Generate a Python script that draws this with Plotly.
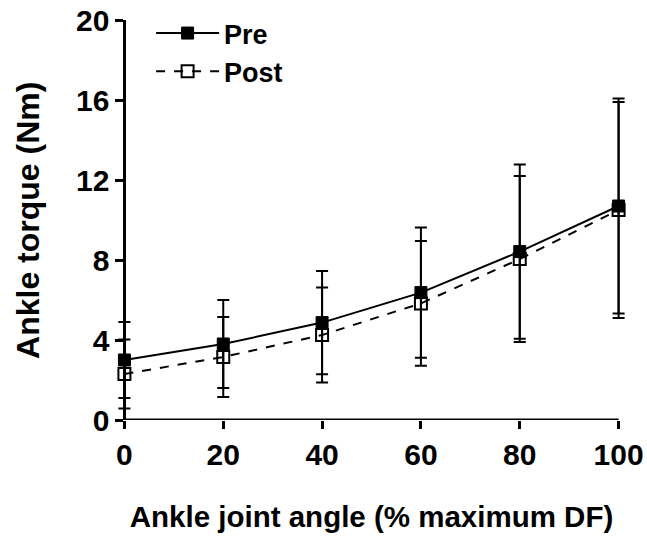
import plotly.graph_objects as go

angle = [0, 20, 40, 60, 80, 100]
pre_mean = [3.0, 3.8, 4.87, 6.37, 8.42, 10.7]
pre_sd = [1.9, 2.2, 2.58, 3.26, 4.36, 5.38]
post_mean = [2.3, 3.15, 4.25, 5.83, 8.05, 10.5]
post_sd = [1.72, 2.0, 2.38, 3.12, 4.15, 5.4]

x_ticks = [0, 20, 40, 60, 80, 100]
y_ticks = [0, 4, 8, 12, 16, 20]

X_MIN, X_MAX = 0, 100
X_PAD = 1.5
Y_MIN, Y_MAX = 0, 20

FONT = "Liberation Sans, Arial, sans-serif"

fig = go.Figure()
fig.add_trace(go.Scatter(
    x=angle, y=pre_mean, name="Pre", mode="lines+markers",
    line=dict(color="black", width=2),
    marker=dict(symbol="square", size=12, color="black", line=dict(color="black", width=1)),
    error_y=dict(type="data", array=pre_sd, visible=True, color="black", thickness=2, width=6),
    cliponaxis=False,
))
fig.add_trace(go.Scatter(
    x=angle, y=post_mean, name="Post", mode="lines+markers",
    line=dict(color="black", width=2, dash="dash"),
    marker=dict(symbol="square-open", size=12, color="black", line=dict(color="black", width=2)),
    error_y=dict(type="data", array=post_sd, visible=True, color="black", thickness=2, width=6),
    cliponaxis=False,
))

# x-axis baseline from 0 to 100 only
fig.add_shape(type="line", xref="x", yref="y", x0=X_MIN, x1=X_MAX, y0=Y_MIN, y1=Y_MIN,
              line=dict(color="black", width=3), layer="above")

# y-axis title as a rotated annotation
fig.add_annotation(text="Ankle torque (Nm)", xref="paper", yref="paper",
                   x=-0.175, y=0.5, xanchor="center", yanchor="middle",
                   textangle=-90, showarrow=False,
                   font=dict(family=FONT, size=32, weight="bold", color="black"))

xr = [X_MIN - X_PAD, X_MAX + X_PAD]
fig.update_layout(
    width=647, height=543,
    margin=dict(l=117, r=21, t=20, b=123, autoexpand=False),
    paper_bgcolor="white", plot_bgcolor="white",
    font=dict(family=FONT, color="black", size=27, weight="bold"),
    showlegend=True,
    legend=dict(
        x=0.067, y=1.0275, xanchor="left", yanchor="top",
        bgcolor="rgba(0,0,0,0)", font=dict(size=27, weight="bold"),
        itemwidth=63, tracegroupgap=0,
    ),
    xaxis=dict(
        range=xr, tickvals=x_ticks, ticktext=[str(v) for v in x_ticks],
        showline=False, automargin=False,
        ticks="outside", ticklen=8, tickwidth=3, tickcolor="black",
        showgrid=False, zeroline=False,
        tickfont=dict(family=FONT, size=30, weight="bold"),
        title=dict(text="Ankle joint angle (% maximum DF)",
                   font=dict(family=FONT, size=29.5, weight="bold"), standoff=36),
    ),
    yaxis=dict(
        range=[Y_MIN, Y_MAX], tickvals=y_ticks, ticktext=[str(v) for v in y_ticks],
        anchor="free", position=X_PAD / (xr[1] - xr[0]),
        showline=True, linecolor="black", linewidth=3, mirror=False, automargin=False,
        ticks="outside", ticklen=8, tickwidth=3, tickcolor="black",
        showgrid=False, zeroline=False,
        tickfont=dict(family=FONT, size=30, weight="bold"),
    ),
)

fig.write_html("out.html")
